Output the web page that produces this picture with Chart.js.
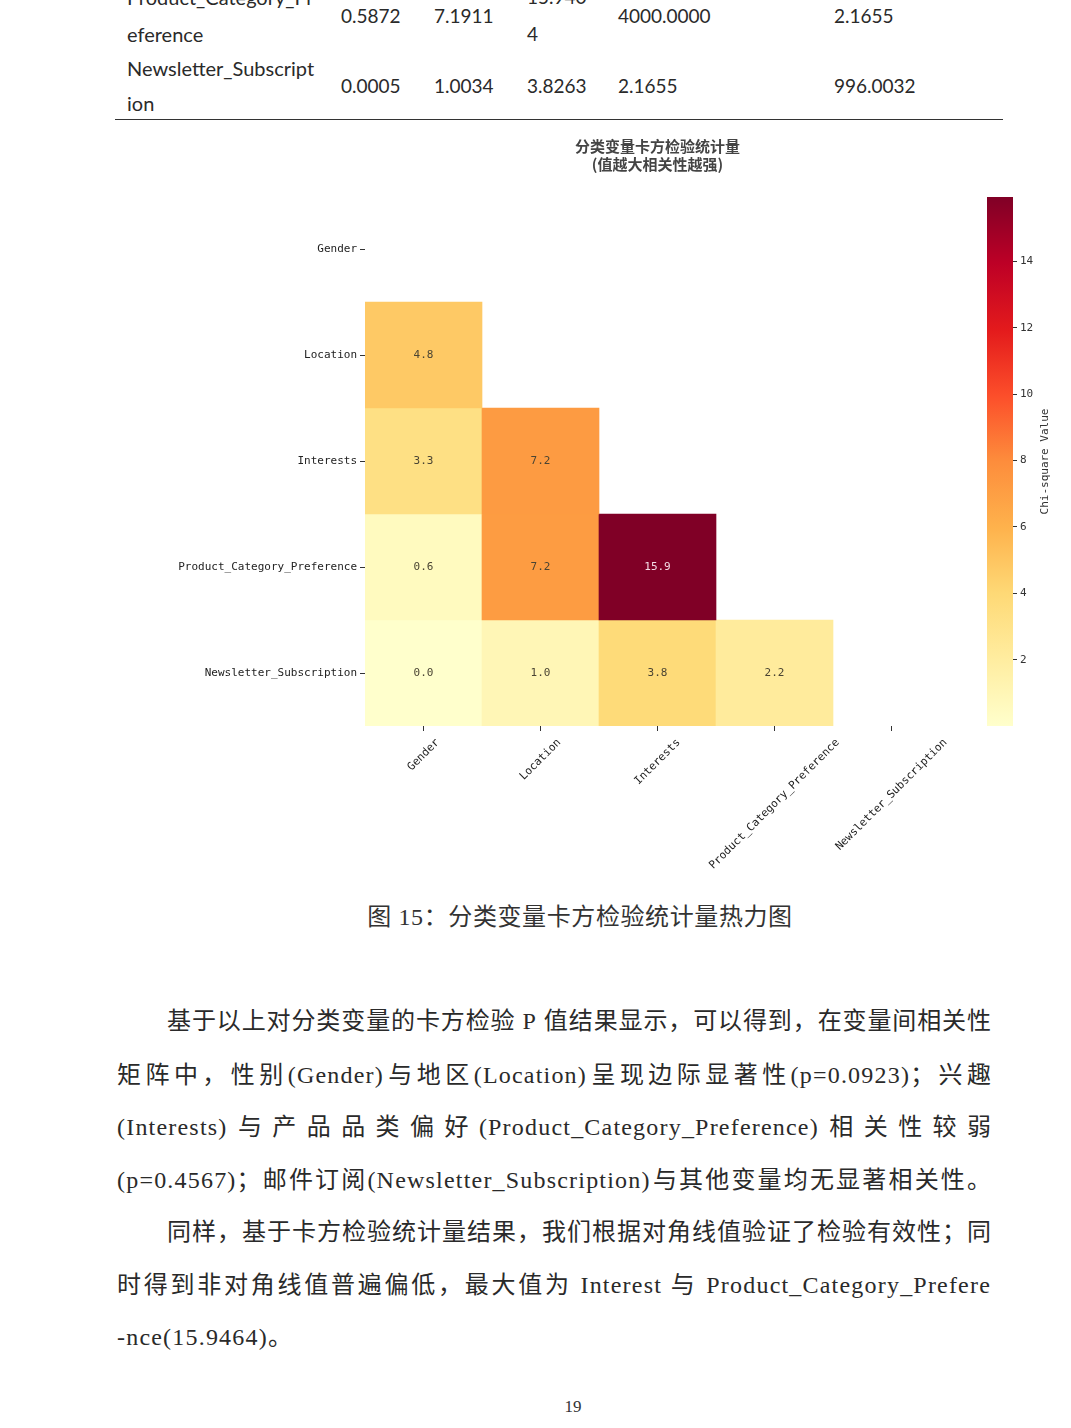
<!DOCTYPE html>
<html>
<head>
<meta charset="utf-8">
<script src="https://cdn.jsdelivr.net/npm/chart.js@4"></script>
<style>
body { margin: 0; width: 1071px; height: 1428px; background: #fff; position: relative; overflow: hidden; }
.tb { position: absolute; font-family: Lato, "Liberation Sans", sans-serif; font-size: 19px; color: #2a2a2a; line-height: 24px; margin-top: -12px; white-space: nowrap; }
.tb.nm { font-size: 20px; }
.rule { position: absolute; left: 115px; width: 888px; top: 119px; height: 0; border-top: 1.5px solid #333; }
.ln { position: absolute; font-family: "Liberation Serif", "Noto Sans CJK SC", serif; font-size: 24px; line-height: 30px; margin-top: -15px; color: #2a2a2a; white-space: nowrap; text-align: justify; text-align-last: justify; }
.ln .en { letter-spacing: 1.2px; }
.last { text-align-last: left; }
.cap { position: absolute; left: 0; width: 1160px; text-align: center; top: 902px; font-family: "Liberation Serif", "Noto Sans CJK SC", serif; font-size: 24px; line-height: 30px; color: #333; letter-spacing: 0.6px; }
.pg { position: absolute; left: 0; width: 1146px; text-align: center; top: 1397px; font-family: "Liberation Serif", serif; font-size: 17px; color: #333; }
canvas { position: absolute; }
</style>
</head>
<body>

<!-- tail of the table from the previous page -->
<div class="tb nm" style="left:127px;top:-3px">Product_Category_Pr</div>
<div class="tb nm" style="left:127px;top:34px">eference</div>
<div class="tb" style="left:341px;top:16px">0.5872</div>
<div class="tb" style="left:434px;top:16px">7.1911</div>
<div class="tb" style="left:527px;top:-3px">15.940</div>
<div class="tb" style="left:527px;top:34px">4</div>
<div class="tb" style="left:618px;top:16px">4000.0000</div>
<div class="tb" style="left:834px;top:16px">2.1655</div>
<div class="tb nm" style="left:127px;top:68px">Newsletter_Subscript</div>
<div class="tb nm" style="left:127px;top:103px">ion</div>
<div class="tb" style="left:341px;top:86px">0.0005</div>
<div class="tb" style="left:434px;top:86px">1.0034</div>
<div class="tb" style="left:527px;top:86px">3.8263</div>
<div class="tb" style="left:618px;top:86px">2.1655</div>
<div class="tb" style="left:834px;top:86px">996.0032</div>
<div class="rule"></div>

<canvas id="heat" width="815" height="760" style="left:150px;top:130px"></canvas>
<canvas id="cbar" width="111" height="608" style="left:960px;top:130px"></canvas>

<div class="cap">图 15：分类变量卡方检验统计量热力图</div>

<div class="ln" style="left:167px;width:824px;top:1021px">基于以上对分类变量的卡方检验 <span class="en">P</span> 值结果显示，可以得到，在变量间相关性</div>
<div class="ln" style="left:117px;width:874px;top:1075px">矩阵中，性别<span class="en">(Gender)</span>与地区<span class="en">(Location)</span>呈现边际显著性<span class="en">(p=0.0923)</span>；兴趣</div>
<div class="ln" style="left:117px;width:874px;top:1127px"><span class="en">(Interests)</span>与产品品类偏好<span class="en">(Product_Category_Preference)</span>相关性较弱</div>
<div class="ln" style="left:117px;width:874px;top:1180px"><span class="en">(p=0.4567)</span>；邮件订阅<span class="en">(Newsletter_Subscription)</span>与其他变量均无显著相关性。</div>
<div class="ln" style="left:167px;width:824px;top:1232px">同样，基于卡方检验统计量结果，我们根据对角线值验证了检验有效性；同</div>
<div class="ln" style="left:117px;width:874px;top:1285px">时得到非对角线值普遍偏低，最大值为 <span class="en">Interest</span> 与 <span class="en">Product_Category_Prefere</span></div>
<div class="ln last" style="left:117px;top:1337px"><span class="en">-nce(15.9464)</span>。</div>

<div class="pg">19</div>

<script>
// variables (rows = columns, same order)
const labels = ['Gender', 'Location', 'Interests', 'Product_Category_Preference', 'Newsletter_Subscription'];

// chi-square statistics, lower triangle only (diagonal and above are masked)
const rowGender = [];
const rowLocation = [4.8];
const rowInterests = [3.3, 7.2];
const rowProduct = [0.5872, 7.1911, 15.9464];
const rowNewsletter = [0.0005, 1.0034, 3.8263, 2.1655];

const colorbarTicks = [2, 4, 6, 8, 10, 12, 14];
const titleLines = ['分类变量卡方检验统计量', '(值越大相关性越强)'];

const rows = [rowGender, rowLocation, rowInterests, rowProduct, rowNewsletter];

// YlOrRd colour map
const ylorrd = ['#ffffcc', '#ffeda0', '#fed976', '#feb24c', '#fd8d3c', '#fc4e2a', '#e31a1c', '#bd0026', '#800026'];

function hexRgb(h) {
    return [1, 3, 5].map(i => parseInt(h.substr(i, 2), 16));
}

function cmap(t) {
    t = Math.max(0, Math.min(1, t));
    let p = t * (ylorrd.length - 1);
    let i = Math.min(Math.floor(p), ylorrd.length - 2);
    let f = p - i;
    let a = hexRgb(ylorrd[i]), b = hexRgb(ylorrd[i + 1]);
    return 'rgb(' + a.map((v, k) => Math.round(v + (b[k] - v) * f)).join(',') + ')';
}

let allValues = rows.flat();
let vmin = Math.min(...allValues);
let vmax = Math.max(...allValues);
let norm = v => (v - vmin) / (vmax - vmin);

const monoCss = '11px "DejaVu Sans Mono", "Liberation Mono", monospace';
const monoFont = { family: '"DejaVu Sans Mono", "Liberation Mono", monospace', size: 11 };

// one dataset per row, each cell is a floating bar one unit tall
let datasets = rows.map((vals, i) => ({
    label: labels[i],
    data: labels.map((_, j) => j < vals.length ? [i - 0.5, i + 0.5] : null),
    values: vals,
    backgroundColor: labels.map((_, j) => j < vals.length ? cmap(norm(vals[j])) : 'rgba(0,0,0,0)'),
    borderWidth: 0,
    grouped: false,
    barPercentage: 1,
    categoryPercentage: 1
}));

// write the value in the middle of each cell
const cellText = {
    id: 'cellText',
    afterDatasetsDraw(chart) {
        let ctx = chart.ctx;
        ctx.save();
        ctx.font = monoCss;
        ctx.textAlign = 'center';
        ctx.textBaseline = 'middle';
        chart.data.datasets.forEach((ds, i) => {
            chart.getDatasetMeta(i).data.forEach((bar, j) => {
                if (j >= ds.values.length) return;
                let v = ds.values[j];
                ctx.fillStyle = norm(v) > 0.75 ? '#f4dce6' : '#4a4433';
                ctx.fillText(v.toFixed(1), bar.x, (bar.y + bar.base) / 2);
            });
        });
        ctx.restore();
    }
};

// x labels rotated 45deg and centred under their tick (like matplotlib)
const xLabels = {
    id: 'xLabels',
    afterDraw(chart) {
        let sx = chart.scales.x;
        let ctx = chart.ctx;
        let top = chart.chartArea.bottom + 11;
        ctx.save();
        ctx.font = monoCss;
        ctx.fillStyle = '#222';
        ctx.textAlign = 'center';
        ctx.textBaseline = 'middle';
        labels.forEach((lab, i) => {
            let w = ctx.measureText(lab).width;
            let bh = (w + 11) * Math.SQRT1_2;
            ctx.save();
            ctx.translate(sx.getPixelForValue(i), top + bh / 2);
            ctx.rotate(-Math.PI / 4);
            ctx.fillText(lab, 0, 0);
            ctx.restore();
        });
        ctx.restore();
    }
};

new Chart(document.getElementById('heat'), {
    type: 'bar',
    data: { labels: labels, datasets: datasets },
    plugins: [cellText, xLabels],
    options: {
        responsive: false,
        animation: false,
        layout: { padding: { top: 7, right: 15, left: 0, bottom: 0 } },
        plugins: {
            legend: { display: false },
            tooltip: { enabled: false },
            title: {
                display: true,
                fullSize: false,
                text: titleLines,
                color: '#444',
                font: { family: '"Noto Sans CJK SC", sans-serif', size: 15, weight: 'bold', lineHeight: 1.2 },
                padding: { top: 0, bottom: 23 }
            }
        },
        scales: {
            x: {
                type: 'category',
                grid: { display: true, offset: false, drawOnChartArea: false, tickLength: 5, color: '#333' },
                border: { display: false },
                ticks: { display: false, autoSkip: false },
                afterFit(s) { s.height = 164; }
            },
            y: {
                type: 'linear',
                reverse: true,
                min: -0.5,
                max: 4.5,
                afterBuildTicks(s) { s.ticks = labels.map((_, i) => ({ value: i })); },
                grid: { drawOnChartArea: false, tickLength: 5, color: '#333' },
                border: { display: false },
                ticks: { color: '#222', font: monoFont, padding: 3, callback: v => labels[Math.round(v)] },
                afterFit(s) { s.width = 215; }
            }
        }
    }
});

// colour bar label, reading upwards
const cbLabel = {
    id: 'cbLabel',
    afterDraw(chart) {
        let a = chart.chartArea;
        let ctx = chart.ctx;
        ctx.save();
        ctx.translate(85, (a.top + a.bottom) / 2);
        ctx.rotate(-Math.PI / 2);
        ctx.font = monoCss;
        ctx.fillStyle = '#333';
        ctx.textAlign = 'center';
        ctx.textBaseline = 'middle';
        ctx.fillText('Chi-square Value', 0, 0);
        ctx.restore();
    }
};

new Chart(document.getElementById('cbar'), {
    type: 'bar',
    data: {
        labels: [''],
        datasets: [{
            data: [[vmin, vmax]],
            backgroundColor(c) {
                let a = c.chart.chartArea;
                if (!a) return ylorrd[0];
                let g = c.chart.ctx.createLinearGradient(0, a.bottom, 0, a.top);
                ylorrd.forEach((col, k) => g.addColorStop(k / (ylorrd.length - 1), col));
                return g;
            },
            borderWidth: 0,
            barPercentage: 1,
            categoryPercentage: 1
        }]
    },
    plugins: [cbLabel],
    options: {
        responsive: false,
        animation: false,
        layout: { padding: { top: 67, left: 27, bottom: 12, right: 0 } },
        plugins: { legend: { display: false }, tooltip: { enabled: false } },
        scales: {
            x: { display: false },
            y: {
                position: 'right',
                min: vmin,
                max: vmax,
                afterBuildTicks(s) { s.ticks = colorbarTicks.map(v => ({ value: v })); },
                grid: { drawOnChartArea: false, tickLength: 4, color: '#333' },
                border: { display: false },
                ticks: { color: '#333', font: monoFont, padding: 3 },
                afterFit(s) { s.width = 58; }
            }
        }
    }
});
</script>
</body>
</html>
